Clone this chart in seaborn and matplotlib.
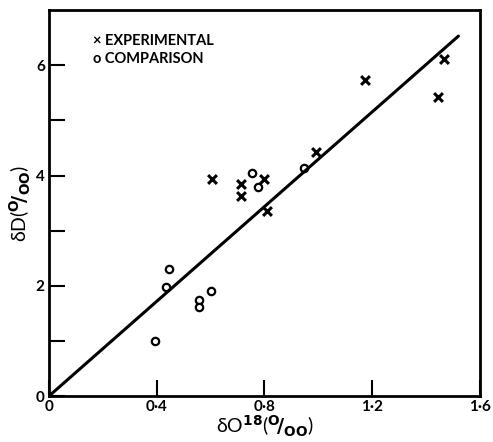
import matplotlib
matplotlib.use("Agg")
import matplotlib.pyplot as plt
import seaborn as sns
import pandas as pd

# values
exp_x = [0.605, 0.713, 0.713, 0.798, 0.81, 0.99, 1.173, 1.466, 1.444]
exp_y = [3.93, 3.84, 3.62, 3.93, 3.35, 4.42, 5.73, 6.11, 5.43]
cmp_x = [0.754, 0.776, 0.947, 0.393, 0.434, 0.446, 0.557, 0.557, 0.60]
cmp_y = [4.05, 3.80, 4.13, 1.00, 1.98, 2.31, 1.75, 1.62, 1.91]
fit_x = [0.0, 1.52]
fit_y = [0.0, 6.53]

x_ticks = [0, 0.4, 0.8, 1.2, 1.6]
x_labels = ["0", "0·4", "0·8", "1·2", "1·6"]
y_ticks = [0, 1, 2, 3, 4, 5, 6]
y_labels = ["0", "", "2", "", "4", "", "6"]

sns.set_style("ticks", {"axes.edgecolor": "black", "text.color": "black",
                        "xtick.color": "black", "ytick.color": "black",
                        "axes.labelcolor": "black"})
plt.rcParams["font.family"] = ["Lato", "DejaVu Sans"]
plt.rcParams["font.weight"] = "bold"

df = pd.DataFrame({
    "x": exp_x + cmp_x,
    "y": exp_y + cmp_y,
    "kind": ["EXPERIMENTAL"] * len(exp_x) + ["COMPARISON"] * len(cmp_x),
})

fig = plt.figure(figsize=(4.93, 4.42), dpi=100)
ax = fig.add_axes([0.0994, 0.104, 0.8742, 0.873])

sns.lineplot(x=fit_x, y=fit_y, ax=ax, color="black", lw=2.2)
sns.scatterplot(data=df[df.kind == "EXPERIMENTAL"], x="x", y="y", ax=ax,
                marker="x", s=40, color="black", linewidth=2.2)
sns.scatterplot(data=df[df.kind == "COMPARISON"], x="x", y="y", ax=ax,
                marker="o", s=28, facecolor="white", edgecolor="black", linewidth=1.6)

ax.set_xlim(0, 1.6)
ax.set_ylim(0, 7)
ax.set_xticks(x_ticks)
ax.set_xticklabels(x_labels, fontsize=11, fontweight="bold")
ax.set_yticks(y_ticks)
ax.set_yticklabels(y_labels, fontsize=11, fontweight="bold")
ax.tick_params(direction="in", length=11.5, width=1.5, pad=3, colors="black")

for s in ax.spines.values():
    s.set_linewidth(2)
    s.set_visible(True)
    s.set_color("black")

ax.set_xlabel(r"δO$^{18}$($^{\mathsf{O}}\!/_{\mathsf{OO}}$)", fontsize=14, labelpad=0)
ax.set_ylabel(r"δD($^{\mathsf{O}}\!/_{\mathsf{OO}}$)", fontsize=14, labelpad=2)

# legend drawn as text, like the original
ax.text(0.165, 6.44, "× EXPERIMENTAL", fontsize=10.5, fontweight="bold", va="center")
ax.text(0.165, 6.11, "o COMPARISON", fontsize=10.5, fontweight="bold", va="center")

fig.savefig("out.png", dpi=100)
